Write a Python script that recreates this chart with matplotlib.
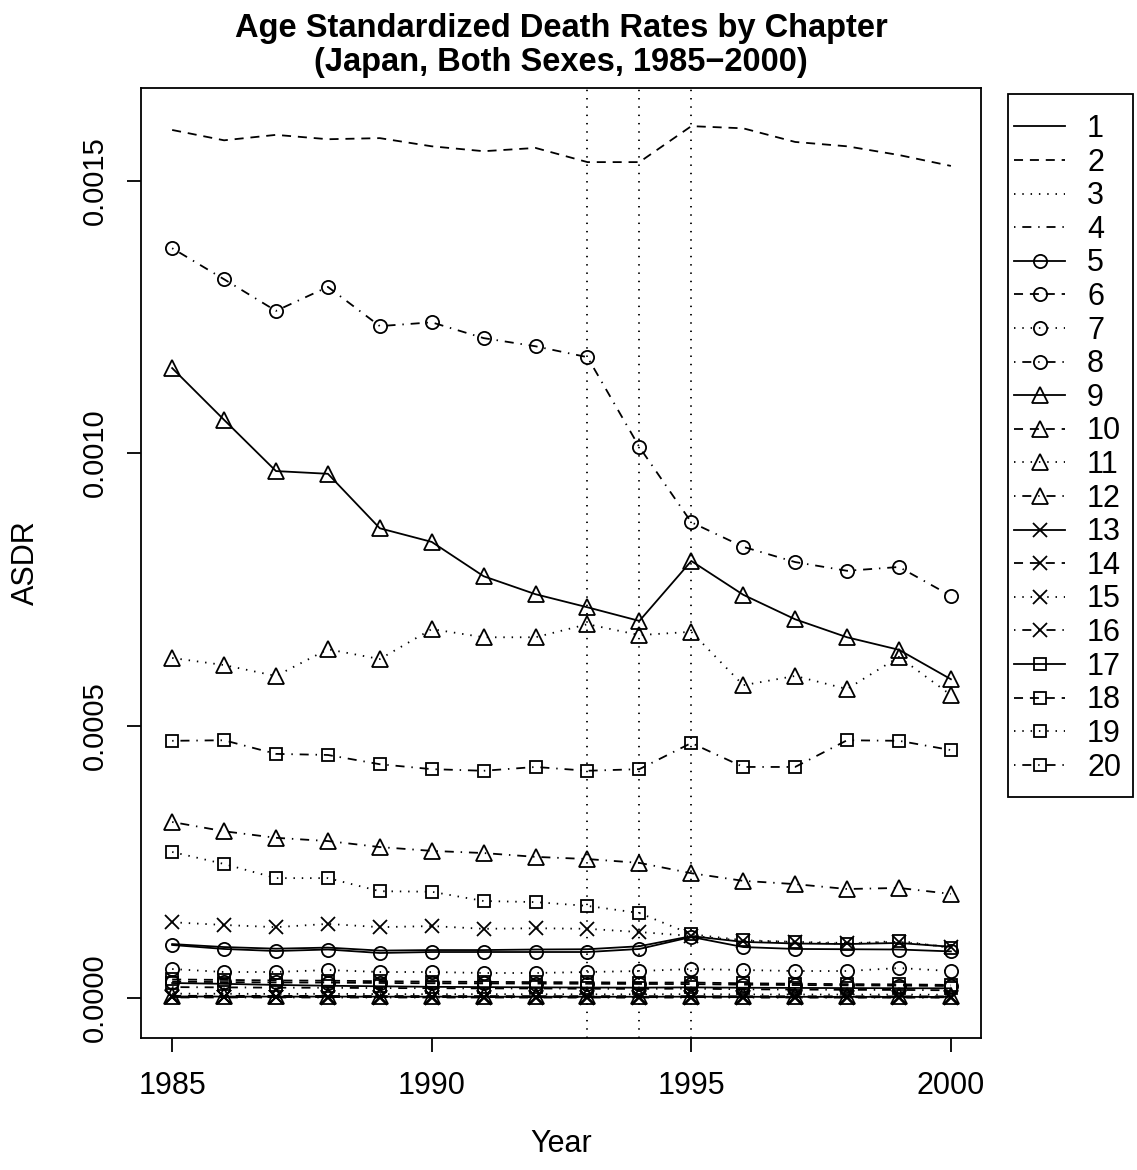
import matplotlib.pyplot as plt
from matplotlib.patches import Rectangle
import numpy as np

plt.rcParams['font.family'] = ['Liberation Sans', 'DejaVu Sans']

# Years on the x axis
years = np.arange(1985, 2001)

# ASDR per chapter
ch1 = [0.0000990, 0.0000935, 0.0000905, 0.0000925, 0.0000870, 0.0000880, 0.0000880, 0.0000890,
       0.0000895, 0.0000950, 0.0001135, 0.0001030, 0.0001000, 0.0000990, 0.0001010, 0.0000940]
ch2 = [0.001593, 0.001574, 0.001584, 0.001576, 0.001578, 0.001563, 0.001554, 0.001560,
       0.001534, 0.001534, 0.001600, 0.001596, 0.001571, 0.001563, 0.001547, 0.001527]
ch3 = [0.0000080, 0.0000078, 0.0000075, 0.0000077, 0.0000072, 0.0000070, 0.0000071, 0.0000069,
       0.0000068, 0.0000067, 0.0000070, 0.0000066, 0.0000064, 0.0000063, 0.0000062, 0.0000060]
ch4 = [0.0000200, 0.0000195, 0.0000190, 0.0000188, 0.0000182, 0.0000180, 0.0000176, 0.0000175,
       0.0000170, 0.0000168, 0.0000172, 0.0000160, 0.0000155, 0.0000150, 0.0000148, 0.0000142]
ch5 = [0.0000973, 0.0000900, 0.0000862, 0.0000890, 0.0000826, 0.0000844, 0.0000844, 0.0000844,
       0.0000844, 0.0000900, 0.0001120, 0.0000935, 0.0000900, 0.0000895, 0.0000890, 0.0000855]
ch6 = [0.0000300, 0.0000292, 0.0000285, 0.0000283, 0.0000276, 0.0000270, 0.0000268, 0.0000265,
       0.0000262, 0.0000258, 0.0000255, 0.0000245, 0.0000238, 0.0000232, 0.0000228, 0.0000220]
ch7 = [0.0000532, 0.0000477, 0.0000477, 0.0000514, 0.0000477, 0.0000477, 0.0000459, 0.0000459,
       0.0000477, 0.0000495, 0.0000532, 0.0000514, 0.0000495, 0.0000495, 0.0000550, 0.0000495]
ch8 = [0.001376, 0.001319, 0.001261, 0.001305, 0.001233, 0.001240, 0.001211, 0.001196,
       0.001176, 0.001011, 0.000873, 0.000828, 0.000800, 0.000784, 0.000791, 0.000738]
ch9 = [0.001156, 0.001061, 0.000967, 0.000962, 0.000862, 0.000837, 0.000774, 0.000741,
       0.000717, 0.000692, 0.000802, 0.000740, 0.000695, 0.000662, 0.000639, 0.000585]
ch10 = [0.0000040, 0.0000039, 0.0000038, 0.0000038, 0.0000036, 0.0000036, 0.0000035, 0.0000034,
        0.0000034, 0.0000033, 0.0000034, 0.0000032, 0.0000031, 0.0000031, 0.0000030, 0.0000030]
ch11 = [0.000624, 0.000611, 0.000591, 0.000640, 0.000622, 0.000677, 0.000662, 0.000662,
        0.000686, 0.000666, 0.000672, 0.000574, 0.000591, 0.000567, 0.000626, 0.000556]
ch12 = [0.000323, 0.000306, 0.000294, 0.000288, 0.000277, 0.000270, 0.000266, 0.000259,
        0.000255, 0.000248, 0.000229, 0.000215, 0.000209, 0.000200, 0.000202, 0.000191]
ch13 = [0.0000028, 0.0000027, 0.0000026, 0.0000026, 0.0000025, 0.0000025, 0.0000024, 0.0000024,
        0.0000023, 0.0000023, 0.0000024, 0.0000022, 0.0000022, 0.0000021, 0.0000021, 0.0000020]
ch14 = [0.0000018, 0.0000018, 0.0000017, 0.0000017, 0.0000017, 0.0000016, 0.0000016, 0.0000016,
        0.0000015, 0.0000015, 0.0000016, 0.0000015, 0.0000014, 0.0000014, 0.0000014, 0.0000013]
ch15 = [0.000139, 0.000134, 0.000130, 0.000136, 0.000130, 0.000132, 0.000127, 0.000128,
        0.000127, 0.000121, 0.000114, 0.000105, 0.000103, 0.000101, 0.000103, 0.0000936]
ch16 = [0.0000010, 0.0000010, 0.0000010, 0.0000009, 0.0000009, 0.0000009, 0.0000009, 0.0000008,
        0.0000008, 0.0000008, 0.0000009, 0.0000008, 0.0000008, 0.0000007, 0.0000007, 0.0000007]
ch17 = [0.0000275, 0.0000260, 0.0000240, 0.0000225, 0.0000215, 0.0000205, 0.0000200, 0.0000196,
        0.0000192, 0.0000190, 0.0000195, 0.0000188, 0.0000185, 0.0000182, 0.0000180, 0.0000178]
ch18 = [0.0000340, 0.0000332, 0.0000322, 0.0000318, 0.0000308, 0.0000300, 0.0000296, 0.0000292,
        0.0000288, 0.0000282, 0.0000284, 0.0000270, 0.0000262, 0.0000255, 0.0000250, 0.0000240]
ch19 = [0.000268, 0.000246, 0.000220, 0.000220, 0.000196, 0.000195, 0.000178, 0.000176,
        0.000169, 0.000156, 0.000117, 0.000106, 0.000103, 0.000099, 0.000105, 0.000092]
ch20 = [0.000472, 0.000473, 0.000448, 0.000446, 0.000429, 0.000420, 0.000417, 0.000424,
        0.000417, 0.000420, 0.000468, 0.000424, 0.000424, 0.000473, 0.000472, 0.000455]

chapters = [ch1, ch2, ch3, ch4, ch5, ch6, ch7, ch8, ch9, ch10,
            ch11, ch12, ch13, ch14, ch15, ch16, ch17, ch18, ch19, ch20]
labels = [str(i) for i in range(1, 21)]
marked_years = [1993, 1994, 1995]

# R style line types (solid, dashed, dotted, dotdash) and pch markers (none, 1, 2, 4, 0)
line_styles = ['-', (0, (5, 3.8)), (0, (0.8, 3.8)), (0, (0.8, 3.8, 5, 3.8))]
markers = [None, 'o', '^', 'x', 's']
marker_sizes = [0, 9.5, 11, 10.5, 9]

fig = plt.figure(figsize=(11.37, 11.70), dpi=100)
ax = fig.add_axes([141 / 1137, 132 / 1170, 840 / 1137, 950 / 1170])

handles = []
for i, vals in enumerate(chapters):
    ls = line_styles[i % 4]
    m = markers[i // 4]
    ms = marker_sizes[i // 4]
    line, = ax.plot(years, vals, color='black', linestyle=ls, linewidth=1.3,
                    marker=m, markersize=ms, markerfacecolor='none',
                    markeredgecolor='black', markeredgewidth=1.3)
    handles.append(line)

# Vertical dotted reference lines
for yr in marked_years:
    ax.axvline(yr, color='black', linestyle=(0, (0.8, 3.8)), linewidth=1.3)

ax.set_xlim(1984.4, 2000.58)
ax.set_ylim(-0.0000734, 0.00167)
ax.set_xticks([1985, 1990, 1995, 2000])
ax.set_yticks([0, 0.0005, 0.0010, 0.0015])
ax.set_yticklabels(['0.0000', '0.0005', '0.0010', '0.0015'], rotation=90, va='center')
ax.tick_params(axis='both', direction='out', length=10, width=1.3, labelsize=22, color='black')
ax.tick_params(axis='y', labelsize=21)
ax.tick_params(axis='x', pad=14)
ax.tick_params(axis='y', pad=13)
for sp in ax.spines.values():
    sp.set_linewidth(1.3)

ax.set_xlabel('Year', fontsize=22, labelpad=20)
ax.set_ylabel('ASDR', fontsize=22, labelpad=29)
ax.set_title('Age Standardized Death Rates by Chapter\n(Japan, Both Sexes, 1985\u22122000)',
             fontsize=23.5, fontweight='bold', pad=12, linespacing=1.14)

# Legend outside the plot on the right, with a plain box
fig.legend(handles, labels, loc='upper left', bbox_to_anchor=(1014 / 1137, 1 - 114 / 1170),
           frameon=False, fontsize=22, handlelength=1.67, handletextpad=0.72,
           labelspacing=0.118, borderpad=0, borderaxespad=0, numpoints=1)
fig.patches.append(Rectangle((1008 / 1137, 1 - 797 / 1170), 125 / 1137, 703 / 1170,
                             transform=fig.transFigure, fill=False, edgecolor='black',
                             linewidth=1.3))

fig.savefig('out.png', dpi=100)
